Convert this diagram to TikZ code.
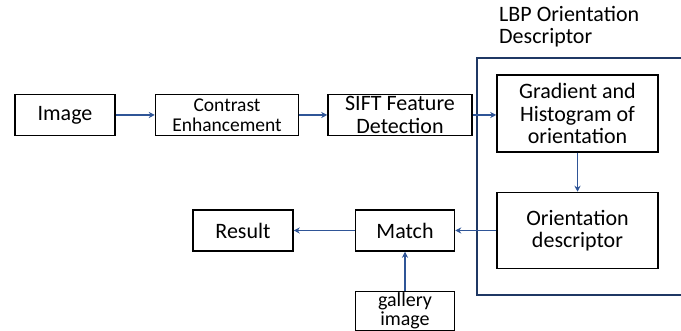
\documentclass[tikz,border=0pt]{standalone}
\usepackage{fontspec}
\setmainfont{Carlito}
\usetikzlibrary{arrows.meta,positioning}
\definecolor{carrow}{HTML}{2F5597}
\definecolor{cframe}{HTML}{1F3864}

\begin{document}
\begin{tikzpicture}[x=1pt,y=1pt,
  blk/.style={draw, line width=1.5pt, minimum height=41pt, align=center,
              inner sep=2pt, font=\fontsize{22}{22.5}\selectfont},
  flow/.style={-{Stealth[length=6pt,width=6pt]}, line width=1.5pt, color=carrow},
  node distance=39pt
]
\useasboundingbox (0,0) rectangle (681,331);

% LBP frame (open on the right)
\coordinate (ftr) at (681,273);
\coordinate (fbr) at (681,36);
\draw[line width=1.5pt, color=cframe] (ftr) -- (477,273) -- (477,36) -- (fbr);
\node[anchor=north west, align=left, inner sep=0pt,
      font=\fontsize{22}{22}\selectfont] (lbp) at (499,325) {LBP Orientation\\Descriptor};

% top row
\node[blk, minimum width=100pt] (img) at (65,216) {Image};
\node[blk, minimum width=143pt, right=39pt of img,
      font=\fontsize{19.5}{20}\selectfont] (enh) {Contrast\\Enhancement};
\node[blk, minimum width=144pt, right=28pt of enh] (sift) {SIFT Feature\\Detection};

% inside the frame
\node[blk, minimum width=161pt, minimum height=77pt] (grad) at (577.5,217.5)
  {Gradient and\\Histogram of\\orientation};
\node[blk, minimum width=161pt, minimum height=76pt, below=39pt of grad] (odesc)
  {Orientation\\descriptor};

% bottom row
\node[blk, minimum width=99pt, left=41pt of odesc] (match) {Match};
\node[blk, minimum width=100pt, left=61pt of match] (res) {Result};
\node[blk, minimum width=99pt, minimum height=39pt, inner ysep=0pt,
      font=\fontsize{20}{18.5}\selectfont, below=39pt of match] (gal) {gallery\\image};

\draw[flow] (img) -- (enh);
\draw[flow] (enh) -- (sift);
\draw[flow] (sift.east) -- (sift.east -| grad.west);
\draw[flow] (grad) -- (odesc);
\draw[flow] (odesc) -- (match);
\draw[flow] (match) -- (res);
\draw[flow] (gal) -- (match);
\end{tikzpicture}
\end{document}
